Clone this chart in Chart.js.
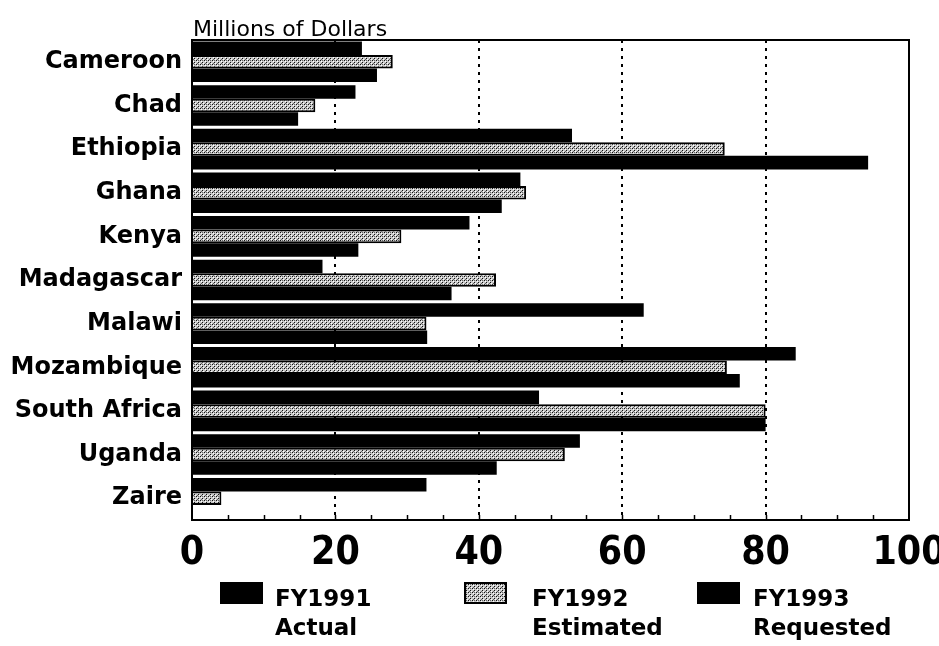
<!DOCTYPE html>
<html>
<head>
<meta charset="utf-8">
<script src="https://cdn.jsdelivr.net/npm/chart.js@4.4.1/dist/chart.umd.min.js"></script>
<style>
  html, body { margin: 0; padding: 0; background: #fff; }
  #wrap { width: 939px; height: 646px; }
</style>
</head>
<body>
<div id="wrap"><canvas id="aidChart" width="939" height="646"></canvas></div>
<script>
// chart data
const countries = ["Cameroon", "Chad", "Ethiopia", "Ghana", "Kenya", "Madagascar",
  "Malawi", "Mozambique", "South Africa", "Uganda", "Zaire"];
const fy1991 = [23.7, 22.8, 53.0, 45.8, 38.7, 18.2, 63.0, 84.2, 48.4, 54.1, 32.7];
const fy1992 = [28.0, 17.2, 74.3, 46.6, 29.2, 42.4, 32.7, 74.6, 80.0, 52.0, 4.1];
const fy1993 = [25.8, 14.8, 94.3, 43.2, 23.2, 36.2, 32.8, 76.4, 80.0, 42.5, null];
const seriesNames = ["FY1991", "FY1992", "FY1993"];
const seriesNotes = ["Actual", "Estimated", "Requested"];
const xTicks = [0, 20, 40, 60, 80, 100];

const labelFont = '"DejaVu Sans", sans-serif';
const numFont = '"Liberation Sans Narrow", "DejaVu Sans Condensed", sans-serif';

// stippled fill for the estimated series
function stipple() {
  const c = document.createElement("canvas");
  c.width = 4; c.height = 4;
  const g = c.getContext("2d");
  g.fillStyle = "#c8c8c8";
  g.fillRect(0, 0, 4, 4);
  g.fillStyle = "#111";
  g.fillRect(0, 0, 1, 1);
  g.fillRect(2, 2, 1, 1);
  g.fillStyle = "#666";
  g.fillRect(2, 0, 1, 1);
  g.fillRect(1, 3, 1, 1);
  g.fillStyle = "#fff";
  g.fillRect(1, 1, 1, 1);
  g.fillRect(3, 3, 1, 1);
  return document.getElementById("aidChart").getContext("2d").createPattern(c, "repeat");
}
const dots = stipple();

// frame, minor ticks, title and legend
const extras = {
  id: "extras",
  afterDraw(chart) {
    const ctx = chart.ctx;
    const a = chart.chartArea;
    const x = chart.scales.x;
    ctx.save();
    ctx.strokeStyle = "#000";
    ctx.lineWidth = 2;
    ctx.strokeRect(a.left, a.top, a.right - a.left, a.bottom - a.top);

    ctx.lineWidth = 1.5;
    for (let v = 5; v < 100; v += 5) {
      const px = Math.round(x.getPixelForValue(v)) + 0.5;
      ctx.beginPath();
      ctx.moveTo(px, a.bottom);
      ctx.lineTo(px, a.bottom - 5);
      ctx.stroke();
    }

    ctx.fillStyle = "#000";
    ctx.font = "22px " + labelFont;
    ctx.textBaseline = "alphabetic";
    ctx.textAlign = "left";
    ctx.fillText("Millions of Dollars", a.left + 1, a.top - 4);

    const boxX = [221, 465, 698];
    const textX = [275, 532, 753];
    chart.data.datasets.forEach((ds, i) => {
      ctx.fillStyle = ds.backgroundColor;
      ctx.fillRect(boxX[i], 583, 41, 20);
      ctx.strokeStyle = "#000";
      ctx.lineWidth = 2;
      ctx.strokeRect(boxX[i], 583, 41, 20);
      ctx.fillStyle = "#000";
      ctx.font = "bold 23px " + labelFont;
      ctx.fillText(ds.label, textX[i], 606);
      ctx.fillText(seriesNotes[i], textX[i], 635);
    });
    ctx.restore();
  }
};

new Chart(document.getElementById("aidChart"), {
  type: "bar",
  data: {
    labels: countries,
    datasets: [
      { label: seriesNames[0], data: fy1991, backgroundColor: "#000", borderWidth: 0 },
      { label: seriesNames[1], data: fy1992, backgroundColor: dots, borderColor: "#000", borderWidth: 2 },
      { label: seriesNames[2], data: fy1993, backgroundColor: "#000", borderWidth: 0 }
    ]
  },
  options: {
    indexAxis: "y",
    responsive: false,
    animation: false,
    layout: { padding: { left: 0, top: 40, right: 30, bottom: 76 } },
    datasets: { bar: { categoryPercentage: 0.93, barPercentage: 1.0 } },
    plugins: {
      legend: { display: false },
      tooltip: { enabled: false }
    },
    scales: {
      x: {
        min: 0,
        max: 100,
        afterBuildTicks: s => { s.ticks = xTicks.map(v => ({ value: v })); },
        afterFit: s => { s.height = 50; s.paddingLeft = 0; s.paddingRight = 0; },
        border: { display: false, dash: [3, 5] },
        grid: {
          drawTicks: false,
          lineWidth: 2,
          color: c => (c.tick && c.tick.value > 0 && c.tick.value < 100) ? "#000" : "rgba(0,0,0,0)"
        },
        ticks: {
          color: "#000",
          padding: 10,
          font: { family: numFont, size: 39, weight: "bold" }
        }
      },
      y: {
        afterFit: s => { s.width = 192; s.paddingTop = 0; s.paddingBottom = 0; },
        border: { display: false },
        grid: { display: false, drawTicks: false },
        ticks: {
          color: "#000",
          padding: 10,
          font: { family: labelFont, size: 24, weight: "bold" }
        }
      }
    }
  },
  plugins: [extras]
});
</script>
</body>
</html>
